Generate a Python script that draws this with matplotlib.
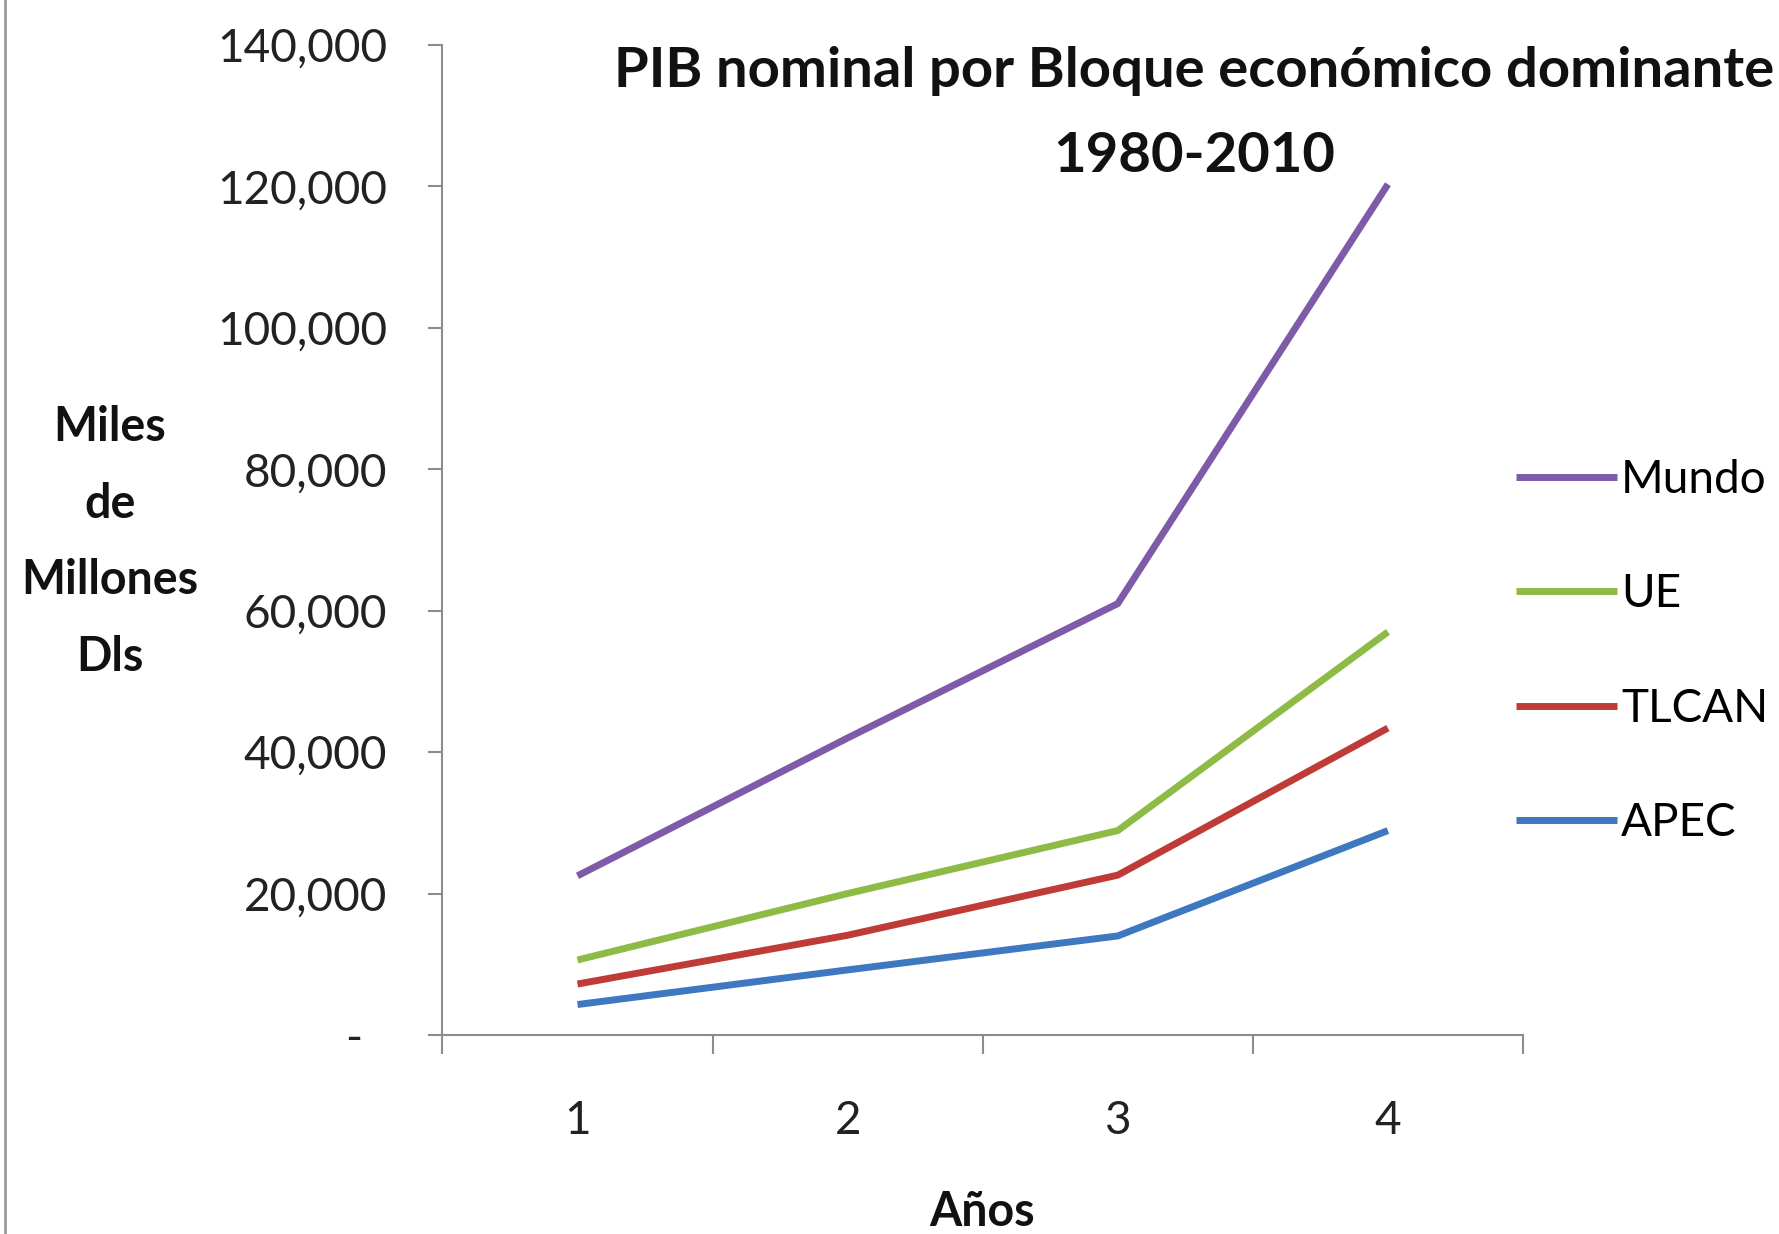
import numpy as np
from matplotlib import pyplot as plt
from matplotlib.lines import Line2D

# data
years = [1, 2, 3, 4]
mundo = [22500, 42000, 61000, 120300]
ue = [10600, 20000, 28900, 57000]
tlcan = [7200, 14100, 22600, 43400]
apec = [4300, 9200, 14000, 28900]
series_names = ['Mundo', 'UE', 'TLCAN', 'APEC']
series_colors = ['#7E5BA8', '#8EBB45', '#BF3B38', '#3D78C0']
yticks = [0, 20000, 40000, 60000, 80000, 100000, 120000, 140000]

plt.rcParams['font.family'] = ['Lato', 'DejaVu Sans']

fig = plt.figure(figsize=(17.79, 12.34), dpi=100)
ax = fig.add_axes([0.2487, 0.1613, 0.6074, 0.8023])

for vals, name, col in zip([mundo, ue, tlcan, apec], series_names, series_colors):
    ax.plot(years, vals, color=col, lw=5, label=name, solid_capstyle='butt')

ax.set_xlim(0.5, 4.5)
ax.set_ylim(0, 140000)

ax.spines['top'].set_visible(False)
ax.spines['right'].set_visible(False)
for s in ['left', 'bottom']:
    ax.spines[s].set_color('#8c8c8c')
    ax.spines[s].set_linewidth(1.5)

def fmt(v):
    if v == 0:
        return '-  '
    return '{:,}'.format(int(v))

ax.set_yticks(yticks)
ax.set_yticklabels([fmt(v) for v in yticks])
ax.tick_params(axis='y', length=10, width=1.5, color='#8c8c8c', pad=30,
               labelsize=33, labelcolor='#222222')

ax.set_xticks([0.5, 1.5, 2.5, 3.5, 4.5])
ax.set_xticklabels([])
ax.tick_params(axis='x', which='major', length=14, width=1.5, color='#8c8c8c')
ax.set_xticks(years, minor=True)
ax.set_xticklabels([str(y) for y in years], minor=True)
ax.tick_params(axis='x', which='minor', length=0, pad=47, labelsize=33,
               labelcolor='#222222')

# title pushed just inside the right edge
fig.text(0.6715, 0.908, 'PIB nominal por Bloque económico dominante\n1980-2010',
         ha='center', va='center', multialignment='center', fontsize=40.5,
         fontweight='bold', linespacing=1.87, color='#111111')

fig.text(0.0619, 0.5608, 'Miles\nde\nMillones\nDls', ha='center', va='center',
         multialignment='center', fontsize=33.5, fontweight='bold',
         linespacing=1.9, color='#111111')

fig.text(0.5523, 0.018, 'Años', ha='center', va='center', fontsize=33.5,
         fontweight='bold', color='#111111')

ax.legend(loc='center left', bbox_to_anchor=(0.852, 0.472),
          bbox_transform=fig.transFigure, frameon=False, fontsize=33,
          handlelength=2.2, handletextpad=0.1, borderpad=0, borderaxespad=0,
          labelspacing=1.58)

# thin frame line on the left edge
fig.add_artist(Line2D([0.003, 0.003], [0, 1], transform=fig.transFigure,
                      color='#9a9a9a', lw=2))

plt.savefig('out.png', dpi=100)
